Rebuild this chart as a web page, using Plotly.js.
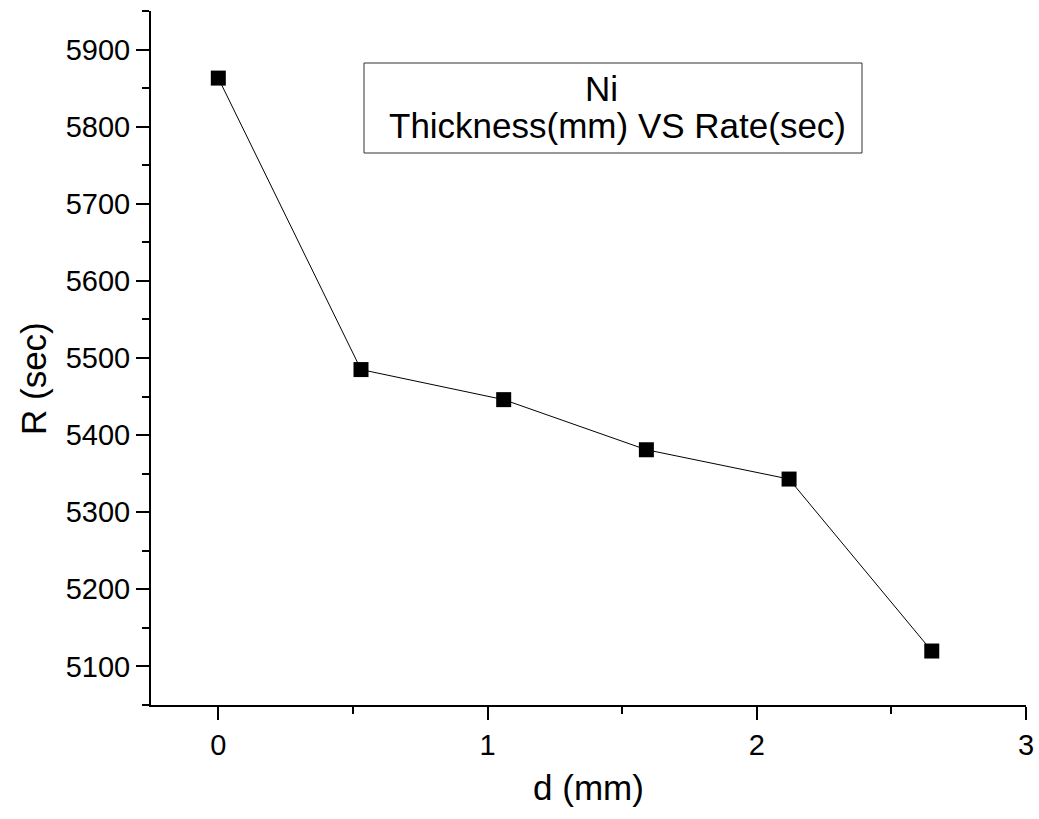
<!DOCTYPE html>
<html>
<head>
<meta charset="utf-8">
<script src="https://cdn.plot.ly/plotly-3.0.1.min.js"></script>
<style>html,body{margin:0;padding:0;background:#fff;}#chart{width:1039px;height:819px;}</style>
</head>
<body>
<div id="chart"></div>
<script>
// Data
var thicknessMm = [0, 0.53, 1.06, 1.59, 2.12, 2.65];
var rateSec = [5863, 5485, 5446, 5381, 5343, 5120];
var xTickVals = [0, 1, 2, 3];
var yTickVals = [5100, 5200, 5300, 5400, 5500, 5600, 5700, 5800, 5900];
var legendLines = ["Ni", "Thickness(mm) VS Rate(sec)"];
var xTitle = "d (mm)";
var yTitle = "R (sec)";

var FONT = "Liberation Sans, Arial, sans-serif";

// plot-area pixel geometry
var W = 1039, H = 819;
var L = 151, R = 13, T = 11, B = 114;
var PW = W - L - R, PH = H - T - B;
function px(x) { return (x - L) / PW; }
function py(y) { return (H - B - y) / PH; }

var trace = {
  x: thicknessMm,
  y: rateSec,
  type: "scatter",
  mode: "lines+markers",
  name: legendLines.join(" "),
  line: {color: "#000", width: 1},
  marker: {symbol: "square", size: 15, color: "#000"},
  showlegend: false
};

var layout = {
  width: W,
  height: H,
  paper_bgcolor: "#fff",
  plot_bgcolor: "#fff",
  margin: {l: L, r: R, t: T, b: B, pad: 0},
  font: {family: FONT, color: "#000"},
  xaxis: {
    range: [-0.25, 3],
    tickvals: xTickVals,
    ticktext: xTickVals.map(String),
    ticks: "outside",
    ticklen: 13,
    tickwidth: 2,
    tickcolor: "#000",
    minor: {dtick: 0.5, ticks: "outside", ticklen: 7, tickwidth: 2, tickcolor: "#000", showgrid: false},
    showline: true,
    linecolor: "#000",
    linewidth: 2,
    showgrid: false,
    zeroline: false,
    tickfont: {family: FONT, size: 29, color: "#000"},
    title: {text: xTitle, font: {family: FONT, size: 35, color: "#000"}, standoff: 16},
    automargin: false
  },
  yaxis: {
    range: [5050, 5950],
    tickvals: yTickVals,
    ticktext: yTickVals.map(String),
    ticks: "outside",
    ticklen: 13,
    tickwidth: 2,
    tickcolor: "#000",
    minor: {dtick: 50, tick0: 5050, ticks: "outside", ticklen: 7, tickwidth: 2, tickcolor: "#000", showgrid: false},
    showline: true,
    linecolor: "#000",
    linewidth: 2,
    showgrid: false,
    zeroline: false,
    tickfont: {family: FONT, size: 29, color: "#000"},
    automargin: false
  },
  shapes: [{
    type: "rect", xref: "paper", yref: "paper",
    x0: px(364), x1: px(862), y0: py(153), y1: py(63),
    line: {color: "#333", width: 1},
    fillcolor: "rgba(0,0,0,0)"
  }],
  annotations: [
    {
      xref: "paper", yref: "paper",
      x: px(601), y: py(89),
      xanchor: "center", yanchor: "middle",
      text: legendLines[0], showarrow: false,
      font: {family: FONT, size: 35, color: "#000"}
    },
    {
      xref: "paper", yref: "paper",
      x: px(617.5), y: py(125),
      xanchor: "center", yanchor: "middle",
      text: legendLines[1], showarrow: false,
      font: {family: FONT, size: 35, color: "#000"}
    },
    {
      xref: "paper", yref: "paper",
      x: px(33), y: py(378),
      xanchor: "center", yanchor: "middle",
      text: yTitle, showarrow: false, textangle: -90,
      font: {family: FONT, size: 35, color: "#000"}
    }
  ]
};

Plotly.newPlot("chart", [trace], layout, {displayModeBar: false, staticPlot: true});
</script>
</body>
</html>
